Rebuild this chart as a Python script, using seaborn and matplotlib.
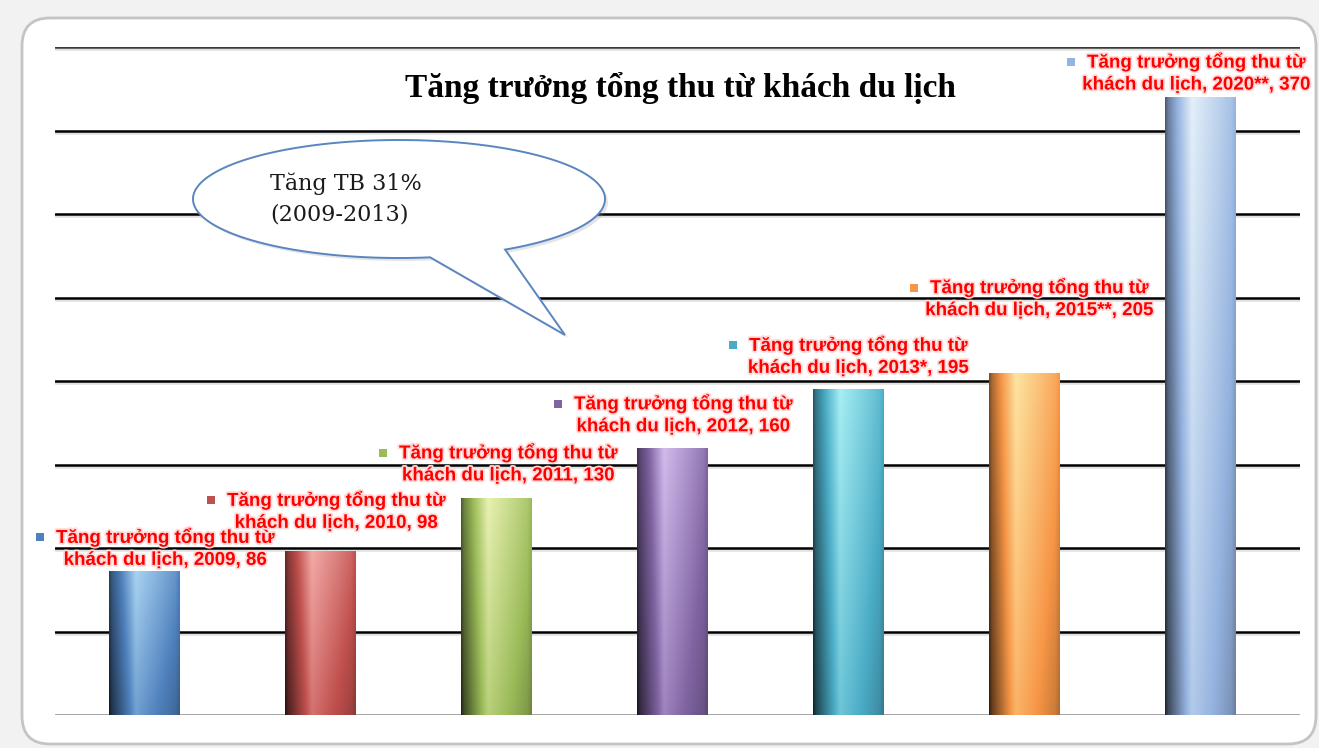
import numpy as np
import pandas as pd
import matplotlib
matplotlib.use("Agg")
import matplotlib.pyplot as plt
import seaborn as sns
from matplotlib.patches import FancyBboxPatch, Polygon
from matplotlib import patheffects as pe
import matplotlib.transforms as mtransforms
from matplotlib.colors import to_rgb

# ---------------- data ----------------
years = ["2009", "2010", "2011", "2012", "2013*", "2015**", "2020**"]
values = [86, 98, 130, 160, 195, 205, 370]
bar_colors = ["#4f81bd", "#c0504d", "#9bbb59", "#8064a2", "#4bacc6", "#f79646", "#95b3e0"]
series_line1 = "Tăng trưởng tổng thu từ"
series_line2 = "khách du lịch"
title = "Tăng trưởng tổng thu từ khách du lịch"
callout_lines = ["Tăng TB 31%", "(2009-2013)"]
y_ticks = [0, 50, 100, 150, 200, 250, 300, 350, 400]

# label layout (pixels relative to bar top centre)
label_dx = [21, 16, 12, 11, 10, 15, -4]
label_dy = [34, 51, 45, 44, 44, 85, 35]

W, H = 1319, 748
sns.set_theme(style="white")
fig = plt.figure(figsize=(W / 100, H / 100), dpi=100)
fig.patch.set_facecolor("#f2f2f2")

# background canvas in pixel coordinates
bg = fig.add_axes([0, 0, 1, 1], zorder=0)
bg.set_xlim(0, W)
bg.set_ylim(H, 0)
bg.axis("off")
bg.add_patch(FancyBboxPatch((22, 18), 1294, 726, boxstyle="round,pad=0,rounding_size=28",
                            facecolor="white", edgecolor="#c4c4c4", linewidth=2))

# main axes
ax = fig.add_axes([55 / W, 33 / H, 1245 / W, 668 / H], zorder=1)
ax.set_facecolor("none")

df = pd.DataFrame({"year": years, "value": values})
sns.barplot(data=df, x="year", y="value", hue="year", palette=bar_colors, width=0.4,
            saturation=1, legend=False, ax=ax, zorder=3, linewidth=0)

shadow = [pe.SimpleLineShadow(offset=(0, -1.5), shadow_color="#999999", alpha=0.3), pe.Normal()]
for yv in y_ticks:
    col = "#8c8c8c" if yv == 0 else ("#3a3a3a" if yv == y_ticks[-1] else "black")
    ax.axhline(yv, color=col, lw=1.8, zorder=1, path_effects=shadow)

# gradients on bars
nx, ny = 120, 120
u = np.linspace(0, 1, nx)
v = np.linspace(0, 1, ny)
s_h = np.interp(u, [0, 0.04, 0.38, 0.75, 0.94, 1.0], [-0.7, -0.5, 0.28, 0.05, -0.08, -0.2])
for patch, col in zip(ax.patches, bar_colors):
    base = np.array(to_rgb(col))
    x0 = patch.get_x()
    w = patch.get_width()
    h = patch.get_height()
    S = s_h[None, :] + (0.3 * v[:, None] - 0.1)
    pos = np.clip(S, 0, 1)[..., None]
    neg = np.clip(-S, 0, 1)[..., None]
    light = np.clip(base + (1 - base) * 0.85, 0, 1)
    light = 0.55 * light + 0.45 * np.clip(base * 1.6, 0, 1)
    k = np.clip(pos / 0.55, 0, 1)
    img = base * (1 - k) + light * k
    img = img * (1 - neg)
    im = ax.imshow(np.clip(img, 0, 1), extent=[x0, x0 + w, 0, h], origin="lower",
                   aspect="auto", zorder=3.5, interpolation="bilinear")
    im.set_clip_path(patch)

ax.set_xlim(-0.506, 6.568)
ax.set_ylim(0, 400)
ax.set_xticks([])
ax.set_yticks([])
ax.set_xlabel("")
ax.set_ylabel("")
for sp in ax.spines.values():
    sp.set_visible(False)

# overlay in pixel coordinates
ov = fig.add_axes([0, 0, 1, 1], zorder=5)
ov.set_xlim(0, W)
ov.set_ylim(H, 0)
ov.axis("off")
ov.set_facecolor("none")

# title
ov.text(680, 88, title, ha="center", va="center", fontsize=24, fontweight="bold",
        family="Liberation Serif", color="black")

# callout bubble
cx, cy, a, b = 399, 199, 206, 59
th = np.radians(np.linspace(81.3, 419.0, 300))
pts = np.column_stack([cx + a * np.cos(th), cy + b * np.sin(th)])
pts = np.vstack([pts, [[565, 335]]])
ov.add_patch(Polygon(pts + [3, 3], closed=True, facecolor="#9a9a9a", edgecolor="none", alpha=0.25))
ov.add_patch(Polygon(pts, closed=True, facecolor="white", edgecolor="#5a86c0", linewidth=1.4))
ov.text(270, 184, callout_lines[0], ha="left", va="center", fontsize=16,
        family="DejaVu Serif", color="#1a1a1a")
ov.text(270, 214, callout_lines[1], ha="left", va="center", fontsize=16,
        family="DejaVu Serif", color="#1a1a1a")

# data labels
glow = [pe.withStroke(linewidth=2.5, foreground="#ffd8d8")]
line1_texts = []
for i, (yr, val) in enumerate(zip(years, values)):
    tr1 = mtransforms.offset_copy(ax.transData, fig=fig, x=label_dx[i], y=label_dy[i], units="dots")
    tr2 = mtransforms.offset_copy(ax.transData, fig=fig, x=label_dx[i], y=label_dy[i] - 23, units="dots")
    t1 = ax.text(i, val, series_line1, transform=tr1, ha="center", va="center", fontsize=13.5,
                 fontweight="bold", family="Liberation Sans", color="#ff0000", path_effects=glow, zorder=6)
    ax.text(i, val, f"{series_line2}, {yr}, {val}", transform=tr2, ha="center", va="center",
            fontsize=13.5, fontweight="bold", family="Liberation Sans", color="#ff0000",
            path_effects=glow, zorder=6)
    line1_texts.append(t1)

fig.canvas.draw()
renderer = fig.canvas.get_renderer()
for t, col in zip(line1_texts, bar_colors):
    bb = t.get_window_extent(renderer)
    ov.plot(bb.x0 - 16, H - (bb.y0 + bb.y1) / 2, marker="s", ms=5.8, color=col,
            markeredgewidth=0)

fig.savefig("out.png", dpi=100, facecolor=fig.get_facecolor())
